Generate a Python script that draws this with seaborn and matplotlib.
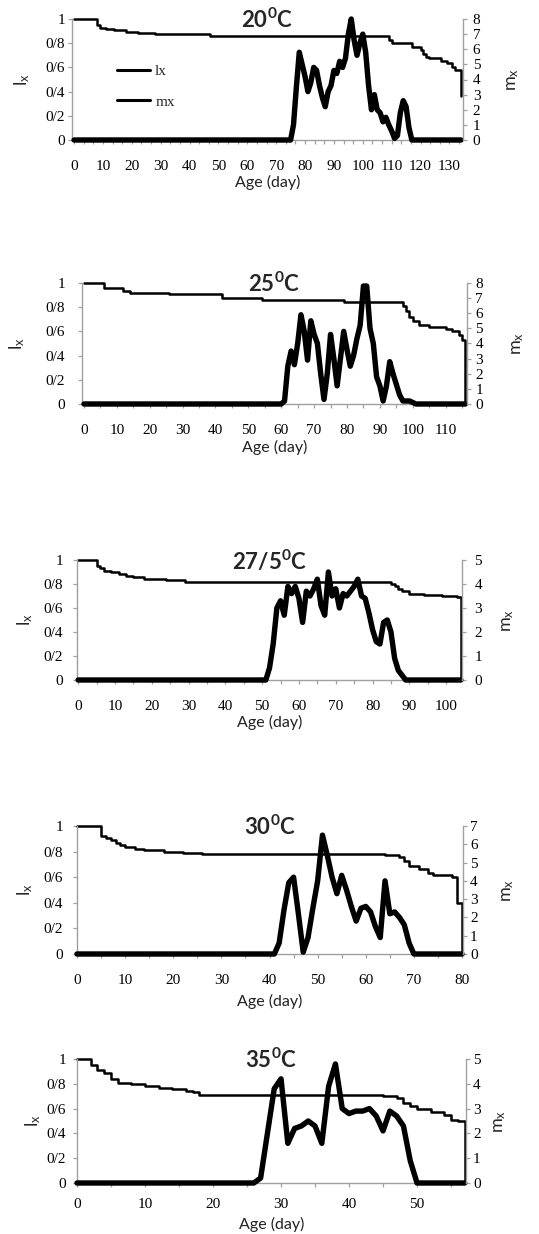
import numpy as np
import matplotlib
matplotlib.use("Agg")
import matplotlib.pyplot as plt
import seaborn as sns
from matplotlib.lines import Line2D
from matplotlib.ticker import MultipleLocator

# ---------------- data ----------------
titles = ["20$^0$C", "25$^0$C", "27/5$^0$C", "30$^0$C", "35$^0$C"]
last_day = [134, 116, 104, 80, 57]
mx_max = [8, 8, 5, 7, 5]
lx_tick_labels = ["0", "0/2", "0/4", "0/6", "0/8", "1"]

# lx (survival) step change points: day, value from that day on
lx20_day = [0, 8, 9, 11, 14, 18, 22, 28, 35, 47, 109, 110, 117, 120, 121, 122, 123, 127, 129, 131, 132, 134]
lx20_val = [1.0, 0.95, 0.925, 0.915, 0.905, 0.895, 0.885, 0.878, 0.872, 0.856, 0.83, 0.80, 0.77, 0.74, 0.71, 0.69, 0.675, 0.655, 0.635, 0.605, 0.58, 0.36]

lx25_day = [0, 6, 12, 14, 26, 42, 54, 79, 97, 98, 99, 100, 102, 105, 110, 112, 114, 115, 116]
lx25_val = [1.0, 0.955, 0.935, 0.915, 0.905, 0.88, 0.86, 0.84, 0.81, 0.77, 0.72, 0.69, 0.655, 0.635, 0.62, 0.60, 0.57, 0.53, 0.0]

lx275_day = [0, 5, 6, 7, 9, 11, 13, 15, 18, 24, 29, 85, 86, 87, 88, 90, 94, 99, 103, 104]
lx275_val = [1.0, 0.95, 0.93, 0.91, 0.90, 0.885, 0.87, 0.855, 0.845, 0.835, 0.815, 0.80, 0.78, 0.76, 0.74, 0.72, 0.71, 0.70, 0.69, 0.0]

lx30_day = [0, 5, 6, 7, 8, 9, 10, 12, 14, 18, 22, 26, 64, 67, 68, 69, 71, 73, 74, 78, 79, 80]
lx30_val = [1.0, 0.925, 0.905, 0.89, 0.87, 0.85, 0.835, 0.822, 0.815, 0.80, 0.79, 0.78, 0.77, 0.755, 0.73, 0.69, 0.667, 0.635, 0.615, 0.60, 0.40, 0.0]

lx35_day = [0, 2, 3, 4, 5, 6, 8, 10, 12, 14, 16, 17, 18, 45, 47, 48, 49, 50, 52, 54, 55, 56, 57]
lx35_val = [1.0, 0.95, 0.91, 0.885, 0.84, 0.81, 0.795, 0.785, 0.77, 0.76, 0.745, 0.73, 0.71, 0.705, 0.685, 0.645, 0.62, 0.60, 0.57, 0.55, 0.51, 0.50, 0.0]

# mx (fecundity): first day of the listed run, then daily values (zero elsewhere)
mx20_start = 75
mx20_val = [0, 1.0, 3.5, 5.8, 5.0, 4.2, 3.2, 3.8, 4.8, 4.6, 3.6, 2.8, 2.2, 3.2, 3.6, 4.6, 4.4, 5.2,
            4.8, 5.4, 7.0, 8.0, 6.6, 5.6, 6.4, 7.0, 5.8, 3.6, 2.0, 3.0, 2.0, 1.8, 1.2, 1.5, 1.0, 0.6,
            0.1, 0.3, 1.8, 2.6, 2.2, 0.8, 0]

mx25_start = 61
mx25_val = [0.2, 2.5, 3.5, 2.6, 4.0, 5.9, 4.8, 2.9, 5.5, 4.6, 4.0, 2.0, 0.3, 2.0, 4.6, 3.0, 1.2,
            3.0, 4.8, 3.6, 2.5, 3.2, 4.3, 5.2, 7.8, 7.8, 5.0, 4.0, 1.8, 1.2, 0.2, 1.2, 2.8, 2.0,
            1.3, 0.6, 0.2, 0.2, 0.2, 0.1, 0]

mx275_start = 51
mx275_val = [0, 0.5, 1.5, 3.0, 3.3, 2.7, 3.9, 3.6, 3.9, 3.4, 2.4, 3.7, 3.5, 3.8, 4.2, 3.1, 2.7,
             4.5, 3.5, 3.8, 3.0, 3.6, 3.5, 3.7, 3.9, 4.2, 3.5, 3.4, 2.8, 2.1, 1.6, 1.5, 2.4, 2.5,
             2.0, 0.9, 0.4, 0.2, 0]

mx30_start = 41
mx30_val = [0, 0.6, 2.4, 3.9, 4.2, 2.2, 0.1, 0.9, 2.5, 4.0, 6.5, 5.4, 4.2, 3.3, 4.3, 3.5, 2.6,
            1.8, 2.5, 2.6, 2.3, 1.5, 0.9, 4.0, 2.2, 2.3, 2.0, 1.6, 0.6, 0]

mx35_start = 27
mx35_val = [0.2, 2.0, 3.8, 4.2, 1.6, 2.2, 2.3, 2.5, 2.3, 1.6, 3.9, 4.8, 3.0, 2.8, 2.9, 2.9, 3.0,
            2.7, 2.1, 2.9, 2.7, 2.3, 0.9, 0]

lx_days = [lx20_day, lx25_day, lx275_day, lx30_day, lx35_day]
lx_vals = [lx20_val, lx25_val, lx275_val, lx30_val, lx35_val]
mx_starts = [mx20_start, mx25_start, mx275_start, mx30_start, mx35_start]
mx_vals = [mx20_val, mx25_val, mx275_val, mx30_val, mx35_val]

# ---------------- layout (pixels) ----------------
W, H = 539, 1234
boxes = [(72, 463, 19, 140), (82, 467, 283, 404), (77, 462, 560, 680),
         (77, 463, 826, 954), (77, 466, 1059, 1183)]
xlims = [(-0.7, 134.7), (-0.6, 116.5), (-0.3, 104.3), (0, 80.2), (0, 57.2)]
xtick_step = [10 / 3, 5, 5, 5, 5]
xlab_pad = [11.5, 11.5, 11.5, 11.5, 8]
age_y = [182, 447, 722, 1001, 1224]
ylab_pad_left = [2, 9, 7, 7, 5]
ylab_pad_right = [4, 3, 6, 2, 2]
lx_label_x = [22, 17, 25, 25, 33]
mx_label_x = [513, 518, 508, 508, 500]

sns.set_style("ticks")
plt.rcParams["font.family"] = ["Liberation Serif", "DejaVu Serif"]
plt.rcParams["mathtext.default"] = "regular"
SPINE = "#a0a0a0"

fig = plt.figure(figsize=(W / 100, H / 100), dpi=100)
fig.patch.set_facecolor("white")

for i in range(5):
    l, r, t, b = boxes[i]
    ax = fig.add_axes([l / W, 1 - b / H, (r - l) / W, (b - t) / H])
    ax2 = ax.twinx()
    N = last_day[i]
    days_full = np.arange(N + 1)
    mx_full = np.zeros(N + 1)
    s = mx_starts[i]
    mx_full[s:s + len(mx_vals[i])] = mx_vals[i]

    sns.lineplot(x=lx_days[i], y=lx_vals[i], ax=ax, color="black", lw=1.8,
                 drawstyle="steps-post", estimator=None, sort=False)
    sns.lineplot(x=days_full, y=mx_full, ax=ax2, color="black", lw=3.9,
                 estimator=None, sort=False)
    for ln in ax.lines + ax2.lines:
        ln.set_clip_on(False)
        ln.set_solid_joinstyle("round")

    ax.set_xlim(*xlims[i])
    ax.set_ylim(0, 1)
    ax2.set_ylim(0, mx_max[i])

    ax.set_yticks([0, 0.2, 0.4, 0.6, 0.8, 1.0])
    ax.set_yticklabels(lx_tick_labels)
    ax2.set_yticks(list(range(mx_max[i] + 1)))
    ax2.set_yticklabels([str(v) for v in range(mx_max[i] + 1)])

    ax.xaxis.set_major_locator(MultipleLocator(10))
    ax.xaxis.set_minor_locator(MultipleLocator(xtick_step[i]))
    ax.set_xlabel("")
    ax.set_ylabel("")
    ax2.set_ylabel("")

    for sp in ["top", "right"]:
        ax.spines[sp].set_visible(False)
    for sp in ["top", "left", "bottom"]:
        ax2.spines[sp].set_visible(False)
    for sp in [ax.spines["left"], ax.spines["bottom"], ax2.spines["right"]]:
        sp.set_color(SPINE)
        sp.set_linewidth(1.0)

    ax.tick_params(axis="x", which="both", direction="out", length=3, width=0.9,
                   color=SPINE, labelcolor="black", labelsize=11, pad=xlab_pad[i])
    ax.tick_params(axis="x", which="minor", labelbottom=False)
    ax.tick_params(axis="y", direction="out", length=3, width=0.9, color=SPINE,
                   labelcolor="black", labelsize=11, pad=ylab_pad_left[i])
    ax2.tick_params(axis="y", direction="out", length=3, width=0.9, color=SPINE,
                    labelcolor="black", labelsize=11, pad=ylab_pad_right[i])

    cx = (l + r) / 2
    fig.text(cx / W, 1 - (t + 1) / H, titles[i], ha="center", va="center",
             fontsize=16, fontweight="bold", family=["Lato", "DejaVu Sans"])
    fig.text(cx / W, 1 - age_y[i] / H, "Age (day)", ha="center", va="center",
             fontsize=11.5, family=["Lato", "DejaVu Sans"], color="#222222")
    cy = (t + b) / 2
    fig.text(lx_label_x[i] / W, 1 - cy / H, "l$_x$", ha="center", va="center",
             rotation=90, fontsize=13, family=["Lato", "DejaVu Sans"])
    fig.text(mx_label_x[i] / W, 1 - cy / H, "m$_x$", ha="center", va="center",
             rotation=90, fontsize=13, family=["Lato", "DejaVu Sans"])

    if i == 0:
        handles = [Line2D([0], [0], color="black", lw=2.2),
                   Line2D([0], [0], color="black", lw=2.2)]
        ax.legend(handles, ["lx", "mx"], loc="upper left",
                  bbox_to_anchor=(0.115, 0.625), frameon=False, borderpad=0,
                  borderaxespad=0, handlelength=2.15, handletextpad=0.35,
                  labelspacing=1.1, prop={"family": "Liberation Serif", "size": 11})

fig.savefig("out.png", dpi=100, facecolor="white")
